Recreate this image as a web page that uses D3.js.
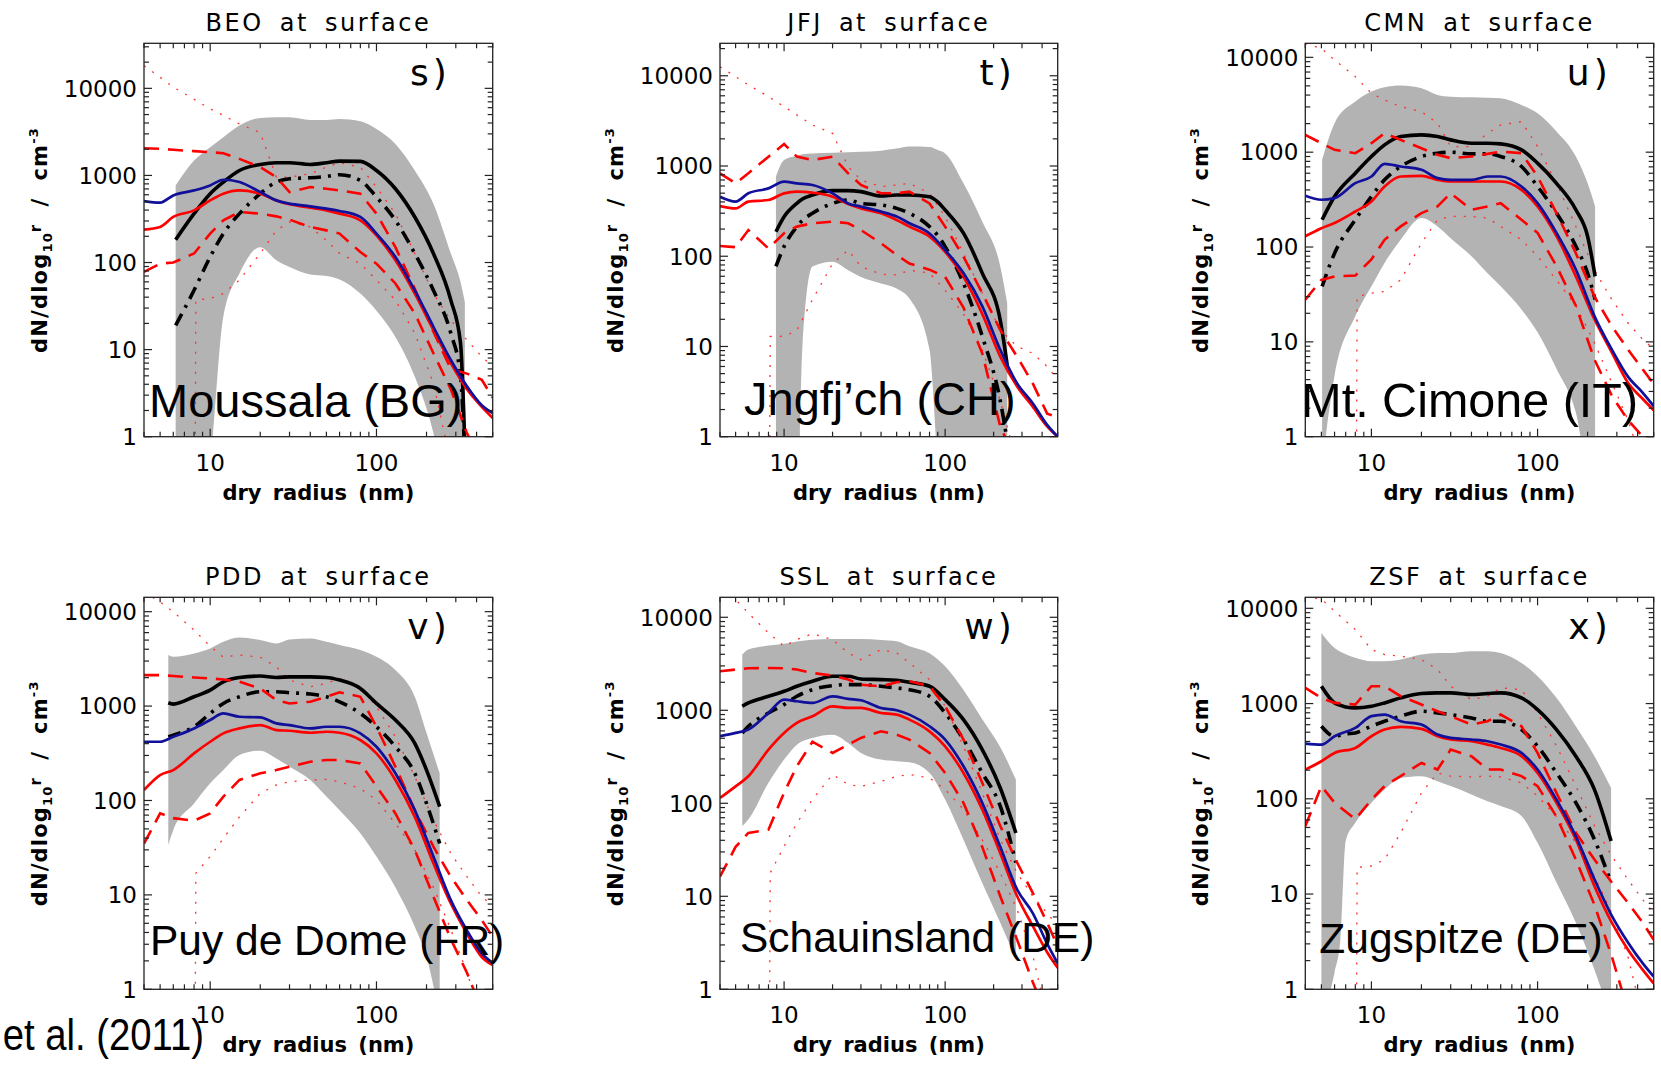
<!DOCTYPE html>
<html>
<head>
<meta charset="utf-8">
<script src="https://cdn.jsdelivr.net/npm/d3@7"></script>
<style>
body { margin: 0; background: #fff; }
svg text { font-family: "DejaVu Sans", sans-serif; fill: #000; }
.station { font-family: "Liberation Sans", Arial, sans-serif !important; }
</style>
</head>
<body>
<svg id="fig" width="1661" height="1065"></svg>
<script>
(function() {

// ---- data (dN/dlog10r in cm^-3 vs dry radius in nm) ----

const codes = ["BEO", "JFJ", "CMN", "PDD", "SSL", "ZSF"];
const stations = ["Moussala (BG)", "Jngfj\u2019ch (CH)", "Mt. Cimone (IT)", "Puy de Dome (FR)", "Schauinsland (DE)", "Zugspitze (DE)"];
const letters = ["s", "t", "u", "v", "w", "x"];
const yTops = [32900, 22900, 14060, 14200, 16400, 13050];
const xDomain = [4, 500];
const yTickValues = [1, 10, 100, 1000, 10000];
const xTickValues = [10, 100];

// radius grid of the observations, and of the lower 5th percentile (starts at ~8 nm)
const radii = [4, 5, 6, 8, 10, 12, 15, 20, 25, 30, 40, 50, 60, 80, 100, 130, 170, 220, 280, 350, 430, 500];
const lowDotRadii = [8.1, 8.2, 10, 12, 15, 20, 25, 30, 40, 50, 60, 80, 100, 130, 170, 220, 280, 350, 430, 500];

// BEO / Moussala
const beoModelR = [6.2, 8, 10, 12, 15, 20, 25, 30, 40, 50, 60, 80, 100, 130, 170, 220, 280, 320, 340];
const beoShadeHi = [768, 1480, 2110, 2750, 3740, 4580, 4650, 4650, 4340, 4340, 4460, 4190, 3420, 2300, 1140, 474, 127, 60, 35];
const beoShadeLo = [0.1, 0.1, 0.5, 24, 75, 150, 106, 89, 73, 70, 64, 44, 28, 14, 4.9, 1.1, 0.1, 0.1, 0.1];
const beoModelMean = [183, 364, 617, 839, 1140, 1337, 1400, 1400, 1337, 1400, 1460, 1450, 1140, 703, 333, 127, 37, 12, 0.8];
const beoModelMedian = [19, 48, 116, 215, 364, 617, 839, 915, 940, 975, 1020, 877, 565, 305, 127, 48, 15.4, 5, 0.6];
const beoObsMean = [508, 487, 590, 673, 768, 892, 839, 644, 517, 474, 442, 415, 391, 334, 215, 116, 48, 18.3, 7.6, 3.8, 2.3, 1.87];
const beoObsMedian = [239, 256, 334, 397, 517, 617, 673, 617, 517, 466, 427, 397, 364, 305, 205, 106, 44, 16.8, 7.0, 3.5, 2.2, 1.64];
const beoQ75 = [2055, 2020, 1970, 1900, 1850, 1800, 1550, 1245, 957, 644, 735, 704, 673, 617, 364, 150, 50, 16, 6, 5.3, 4.5, 2.8];
const beoQ25 = [78, 97, 100, 127, 215, 305, 380, 364, 339, 311, 256, 234, 215, 132, 97, 57.5, 26, 9.1, 3.5, 1.1, 0.5, 0.3];
const beoP95 = [18200, 13400, 10300, 7500, 5800, 4900, 3900, 3100, 957, 957, 1045, 1245, 1400, 1245, 735, 364, 127, 44, 21.8, 12.9, 8.3, 6.4];
const beoP05 = [0.1, 37, 38.5, 44, 63, 127, 234, 292, 256, 180, 127, 97, 63, 37, 15.4, 4.1, 0.5, 0.3, 0.2, 0.1];

// JFJ / Jungfraujoch
const jfjModelR = [8.9, 10, 12, 13, 15, 20, 25, 30, 40, 50, 60, 80, 90, 100, 130, 170, 220, 243];
const jfjShadeHi = [762, 1165, 1300, 1350, 1380, 1400, 1420, 1440, 1480, 1560, 1640, 1620, 1500, 1380, 643, 242, 77, 30];
const jfjShadeLo = [0.1, 0.1, 0.1, 10, 77, 87, 70, 59, 50, 44, 34, 9.2, 0.5, 0.1, 0.1, 0.1, 0.1, 0.1];
const jfjModelMean = [187, 274, 385, 430, 477, 533, 533, 520, 465, 477, 477, 457, 400, 325, 180, 65, 19.5, 6.2];
const jfjModelMedian = [77, 128, 213, 250, 299, 385, 420, 385, 370, 339, 299, 213, 170, 128, 50, 13, 2.5, 0.9];
const jfjObsMean = [457, 403, 498, 565, 670, 642, 616, 498, 385, 355, 312, 275, 232, 179, 117, 65, 28, 9.2, 3.9, 2.35, 1.35, 1.0];
const jfjObsMedian = [360, 339, 403, 420, 498, 520, 506, 457, 379, 339, 299, 252, 213, 165, 112, 59, 23, 7.7, 3.6, 2.15, 1.3, 1.0];
const jfjQ75 = [829, 643, 829, 1270, 1750, 1270, 1165, 1270, 829, 616, 498, 498, 520, 385, 213, 99, 39, 15.2, 7.7, 3.9, 1.8, 1.65];
const jfjQ25 = [130, 126, 195, 122, 180, 213, 232, 242, 232, 195, 139, 103, 83, 71, 59, 27, 8.4, 1.3, 0.5, 0.3, 0.2, 0.1];
const jfjP95 = [12600, 9780, 7910, 5870, 4550, 3680, 2850, 2300, 983, 700, 590, 616, 643, 498, 275, 108, 39, 15.2, 10, 8.4, 6, 4.3];
const jfjP05 = [0.1, 12.9, 13, 15, 33, 83, 117, 77, 63, 62, 70, 65, 42, 23, 9.2, 2.5, 0.5, 0.3, 0.2, 0.1];

// CMN / Mt. Cimone
const cmnModelR = [5.05, 6, 8, 10, 12, 15, 20, 25, 30, 40, 50, 60, 80, 100, 130, 170, 200, 222];
const cmnShadeHi = [830, 2020, 3420, 4350, 4830, 5040, 4720, 4010, 3850, 3790, 3760, 3700, 3150, 2570, 1650, 900, 472, 268];
const cmnShadeLo = [0.5, 4.4, 18.6, 38.5, 68, 119, 202, 165, 124, 80, 53, 38.5, 22, 12.6, 5.2, 1.8, 0.5, 0.5];
const cmnModelMean = [194, 341, 601, 900, 1194, 1462, 1522, 1462, 1348, 1244, 1244, 1224, 1058, 766, 470, 247, 130, 49];
const cmnModelMedian = [38.5, 86, 194, 341, 511, 706, 900, 976, 1000, 960, 960, 900, 706, 435, 228, 102, 53, 28];
const cmnObsMean = [347, 315, 328, 471, 554, 754, 706, 652, 533, 511, 511, 554, 554, 435, 290, 141, 58, 18.7, 8.3, 4.3, 2.9, 2.1];
const cmnObsMedian = [130, 158, 179, 237, 302, 435, 554, 563, 511, 491, 491, 491, 491, 401, 268, 130, 49, 17.3, 7.7, 3.7, 2.5, 1.9];
const cmnQ75 = [1521, 1244, 1058, 976, 1244, 1585, 1348, 1102, 937, 865, 900, 960, 1016, 976, 554, 228, 86, 30, 14.6, 8.3, 5.1, 3.6];
const cmnQ25 = [27.9, 45, 49, 50, 74, 119, 165, 228, 268, 370, 247, 268, 290, 194, 141, 63, 24, 6.5, 2.7, 1.5, 1.0, 0.6];
const cmnP95 = [14000, 12400, 9380, 6250, 4170, 3550, 3020, 2680, 2020, 1147, 1147, 1585, 1940, 2100, 1147, 471, 165, 57, 27.9, 15.8, 10.6, 8.4];
const cmnP05 = [0.1, 30, 32.6, 34, 45, 110, 194, 210, 210, 202, 165, 119, 80, 45, 24, 9.8, 3.7, 1.5, 0.5, 0.3];

// PDD / Puy de Dome
const pddModelR = [5.6, 6, 8, 10, 12, 15, 20, 25, 30, 40, 50, 60, 80, 100, 130, 170, 200, 240];
const pddShadeHi = [3470, 3330, 3610, 4080, 4800, 5330, 5000, 4610, 5080, 5200, 4800, 4430, 3920, 3330, 2410, 1255, 520, 194];
const pddShadeLo = [33.7, 48.6, 93, 152, 210, 303, 337, 279, 228, 165, 110, 79, 45, 25.5, 12, 4.6, 2.2, 0.5];
const pddModelMean = [1085, 1050, 1255, 1477, 1810, 2010, 2080, 2010, 2040, 2040, 2010, 1886, 1538, 1067, 711, 402, 210, 86];
const pddModelMedian = [473, 493, 604, 836, 1067, 1255, 1418, 1418, 1385, 1340, 1255, 1111, 836, 604, 371, 194, 93, 35];
const pddObsMean = [419, 419, 473, 580, 711, 836, 771, 758, 656, 629, 580, 604, 604, 514, 371, 194, 79, 25.5, 8.8, 4.2, 2.4, 1.9];
const pddObsMedian = [129, 186, 210, 316, 419, 514, 580, 629, 557, 548, 522, 535, 522, 437, 316, 165, 67, 21.6, 8.1, 3.9, 2.2, 1.8];
const pddQ75 = [2130, 2130, 2080, 2010, 1960, 1915, 1810, 1538, 1157, 1067, 1111, 1255, 1400, 1255, 604, 228, 79, 32.4, 15.6, 8.8, 5.4, 3.6];
const pddQ25 = [35, 73, 65, 61, 73, 110, 165, 194, 210, 228, 257, 268, 268, 247, 141, 73, 30, 9.6, 3.4, 1.5, 0.6, 0.3];
const pddP95 = [16000, 12700, 9950, 6380, 4300, 3300, 3470, 3300, 2600, 1886, 1600, 1738, 1960, 1600, 984, 473, 179, 62, 27.5, 15.6, 9.6, 7.6];
const pddP05 = [0.1, 17, 25.5, 39.7, 67, 119, 146, 158, 165, 167, 158, 134, 101, 57, 30, 12, 4.3, 1.5, 0.5, 0.3];

// SSL / Schauinsland
const sslModelR = [5.5, 6, 8, 10, 12, 15, 20, 25, 30, 40, 50, 60, 80, 100, 130, 170, 220, 275];
const sslShadeHi = [3970, 4500, 4960, 5200, 5500, 5750, 5850, 5850, 5850, 5700, 5520, 4880, 4100, 2970, 1650, 800, 400, 180];
const sslShadeLo = [57, 67, 166, 295, 427, 504, 547, 446, 348, 295, 283, 276, 212, 110, 40.6, 13.9, 5.2, 2.1];
const sslModelMean = [1104, 1199, 1414, 1600, 1812, 2050, 2321, 2321, 2172, 2137, 2102, 2000, 1812, 1302, 794, 378, 146, 48];
const sslModelMedian = [570, 673, 936, 1150, 1414, 1667, 1840, 1887, 1887, 1812, 1738, 1667, 1414, 936, 484, 212, 93, 23];
const sslObsMean = [526, 571, 620, 936, 1302, 1250, 1199, 1414, 1324, 1281, 1059, 1000, 898, 673, 484, 250, 101, 34, 11.8, 6.6, 3.1, 1.9];
const sslObsMedian = [114, 152, 195, 378, 570, 731, 862, 1104, 1059, 1059, 936, 898, 794, 594, 410, 212, 86, 29, 10, 4.8, 2.5, 1.7];
const sslQ75 = [2630, 2740, 2830, 2850, 2830, 2740, 2520, 2360, 2137, 1887, 1812, 2000, 2050, 1812, 1104, 484, 166, 57, 23, 10.9, 5.2, 2.9];
const sslQ25 = [16.3, 34, 48, 52, 130, 250, 460, 348, 427, 504, 594, 547, 484, 348, 212, 101, 34, 10, 3.4, 1.2, 0.5, 0.3];
const sslP95 = [18200, 15500, 11100, 6770, 4880, 5750, 6670, 5750, 4140, 3500, 4490, 4140, 3230, 2137, 1104, 410, 130, 40.6, 17.8, 10, 6.6, 4.8];
const sslP05 = [0.1, 17.8, 34.4, 61, 110, 204, 159, 152, 172, 195, 204, 187, 141, 86, 40.6, 17.8, 7.2, 2.3, 0.5, 0.3];

// ZSF / Zugspitze
const zsfModelR = [5, 6, 6.5, 7, 8, 10, 12, 15, 20, 25, 30, 40, 50, 60, 80, 100, 130, 170, 220, 277];
const zsfShadeHi = [5520, 3840, 3500, 3300, 3020, 2780, 2780, 2900, 3270, 3400, 3400, 3540, 3540, 3400, 2670, 1940, 1150, 578, 280, 130];
const zsfShadeLo = [0.5, 1.5, 3.3, 36, 56, 91, 125, 166, 173, 153, 136, 111, 94, 84, 66, 34.5, 13.2, 5, 1.6, 0.5];
const zsfModelMean = [1520, 1016, 960, 920, 900, 937, 1016, 1147, 1273, 1294, 1294, 1243, 1273, 1294, 1147, 865, 533, 280, 125, 36];
const zsfModelMedian = [578, 454, 465, 480, 492, 578, 652, 737, 831, 798, 766, 707, 652, 652, 533, 356, 187, 91, 37.4, 13.2];
const zsfObsMean = [380, 371, 454, 555, 737, 766, 652, 602, 473, 436, 419, 402, 371, 303, 203, 98, 40.4, 14.3, 5.9, 3.1, 1.87, 1.36];
const zsfObsMedian = [203, 248, 303, 342, 454, 533, 569, 542, 454, 419, 402, 371, 342, 280, 187, 91, 37.4, 12.1, 5, 2.6, 1.6, 1.15];
const zsfQ75 = [1460, 1147, 1016, 976, 1520, 1520, 1194, 976, 831, 737, 602, 652, 766, 578, 303, 115, 44, 23, 13.2, 8.1, 5, 3.3];
const zsfQ25 = [51.6, 136, 91, 61, 98, 136, 173, 238, 203, 329, 280, 203, 203, 173, 136, 65, 23, 7.7, 2.2, 0.6, 0.3, 0.2];
const zsfP95 = [13200, 12500, 9330, 5980, 3690, 3270, 3140, 2900, 2280, 1520, 1100, 1194, 1460, 1400, 798, 360, 136, 52, 25, 14.2, 8.7, 6.3];
const zsfP05 = [0.1, 19, 19.7, 23, 44, 115, 187, 173, 170, 173, 170, 147, 107, 65, 34.5, 15.3, 6.3, 2.2, 0.5, 0.3];

// table the drawing loop walks over
let panels = [
  {modelR: beoModelR, hi: beoShadeHi, lo: beoShadeLo, mean: beoModelMean, median: beoModelMedian,
   obsMean: beoObsMean, obsMedian: beoObsMedian, q75: beoQ75, q25: beoQ25, p95: beoP95, p05: beoP05},
  {modelR: jfjModelR, hi: jfjShadeHi, lo: jfjShadeLo, mean: jfjModelMean, median: jfjModelMedian,
   obsMean: jfjObsMean, obsMedian: jfjObsMedian, q75: jfjQ75, q25: jfjQ25, p95: jfjP95, p05: jfjP05},
  {modelR: cmnModelR, hi: cmnShadeHi, lo: cmnShadeLo, mean: cmnModelMean, median: cmnModelMedian,
   obsMean: cmnObsMean, obsMedian: cmnObsMedian, q75: cmnQ75, q25: cmnQ25, p95: cmnP95, p05: cmnP05},
  {modelR: pddModelR, hi: pddShadeHi, lo: pddShadeLo, mean: pddModelMean, median: pddModelMedian,
   obsMean: pddObsMean, obsMedian: pddObsMedian, q75: pddQ75, q25: pddQ25, p95: pddP95, p05: pddP05},
  {modelR: sslModelR, hi: sslShadeHi, lo: sslShadeLo, mean: sslModelMean, median: sslModelMedian,
   obsMean: sslObsMean, obsMedian: sslObsMedian, q75: sslQ75, q25: sslQ25, p95: sslP95, p05: sslP05},
  {modelR: zsfModelR, hi: zsfShadeHi, lo: zsfShadeLo, mean: zsfModelMean, median: zsfModelMedian,
   obsMean: zsfObsMean, obsMedian: zsfObsMedian, q75: zsfQ75, q25: zsfQ25, p95: zsfP95, p05: zsfP05}
];

// ---- layout (pixels) ----
let frames = [
  {left: 144,    top: 43.3,  w: 348.7, h: 393.4, sx: 5,   sy: -20,   fs: 47},
  {left: 720,    top: 43.3,  w: 337.7, h: 393.4, sx: 24,  sy: -21.5, fs: 47},
  {left: 1305.3, top: 43.3,  w: 348.4, h: 393.4, sx: -4,  sy: -20,   fs: 48.5},
  {left: 144,    top: 597.3, w: 348.7, h: 392,   sx: 6,   sy: -34,   fs: 42.5},
  {left: 720,    top: 597.3, w: 337.7, h: 392,   sx: 20,  sy: -37.5, fs: 42.5},
  {left: 1305.3, top: 597.3, w: 348.4, h: 392,   sx: 14,  sy: -36,   fs: 42.5}
];

const zip = (rs, vs) => rs.map((r, j) => [r, vs[j]]);

let svg = d3.select("#fig");
let defs = svg.append("defs");

panels.forEach(function(p, i) {
  let f = frames[i];
  let right = f.left + f.w, bottom = f.top + f.h;

  let xScale = d3.scaleLog().domain(xDomain).range([f.left, right]);
  let yScale = d3.scaleLog().domain([1, yTops[i]]).range([bottom, f.top]);

  let line = d3.line().x((d) => xScale(d[0])).y((d) => yScale(d[1]));
  let smooth = d3.line().x((d) => xScale(d[0])).y((d) => yScale(d[1])).curve(d3.curveMonotoneX);

  defs.append("clipPath").attr("id", "clip" + i)
    .append("rect").attr("x", f.left).attr("y", f.top).attr("width", f.w).attr("height", f.h);

  let g = svg.append("g");
  let plot = g.append("g").attr("clip-path", "url(#clip" + i + ")");

  // model 5-95 % band
  let band = p.modelR.map((r, j) => ({r: r, lo: p.lo[j], hi: p.hi[j]}));
  plot.append("path")
    .datum(band)
    .attr("fill", "#b3b3b3")
    .attr("d", d3.area()
      .x((d) => xScale(d.r))
      .y0((d) => yScale(d.lo))
      .y1((d) => yScale(d.hi))
      .curve(d3.curveMonotoneX));

  // observed percentiles
  plot.append("path").datum(zip(radii, p.p95))
    .attr("fill", "none").attr("stroke", "#ff3030").attr("stroke-width", 1.3)
    .attr("stroke-dasharray", "2,8").attr("d", line);
  plot.append("path").datum(zip(lowDotRadii, p.p05))
    .attr("fill", "none").attr("stroke", "#ff3030").attr("stroke-width", 1.3)
    .attr("stroke-dasharray", "2,8").attr("d", line);

  // model median and mean
  plot.append("path").datum(zip(p.modelR, p.median))
    .attr("fill", "none").attr("stroke", "#000").attr("stroke-width", 3.6)
    .attr("stroke-dasharray", "13,7,3,7").attr("d", smooth);
  plot.append("path").datum(zip(p.modelR, p.mean))
    .attr("fill", "none").attr("stroke", "#000").attr("stroke-width", 3.6)
    .attr("d", smooth);

  // observed quartiles, median, mean
  [p.q75, p.q25].forEach(function(q) {
    plot.append("path").datum(zip(radii, q))
      .attr("fill", "none").attr("stroke", "#f00").attr("stroke-width", 2.6)
      .attr("stroke-dasharray", "15,9").attr("d", line);
  });
  plot.append("path").datum(zip(radii, p.obsMedian))
    .attr("fill", "none").attr("stroke", "#f00").attr("stroke-width", 2.7)
    .attr("d", smooth);
  plot.append("path").datum(zip(radii, p.obsMean))
    .attr("fill", "none").attr("stroke", "#10109a").attr("stroke-width", 2.7)
    .attr("d", smooth);

  // frame and IDL-style inward ticks on all four sides
  g.append("rect")
    .attr("x", f.left).attr("y", f.top).attr("width", f.w).attr("height", f.h)
    .attr("fill", "none").attr("stroke", "#222").attr("stroke-width", 1.3);

  let yt = [];
  for (let k = 0; k <= 4; k++) {
    for (let m = 1; m <= 9; m++) {
      let v = m * Math.pow(10, k);
      if (v <= yTops[i]) yt.push({v: v, major: m === 1});
    }
  }
  let xt = [];
  [1, 10, 100].forEach(function(base) {
    for (let m = 1; m <= 9; m++) {
      let v = m * base;
      if (v >= xDomain[0] && v <= xDomain[1]) xt.push({v: v, major: m === 1});
    }
  });

  let ticks = g.append("g").attr("stroke", "#222").attr("stroke-width", 1.2);
  yt.forEach(function(t) {
    let len = t.major ? 8 : 5, yy = yScale(t.v);
    ticks.append("line").attr("x1", f.left).attr("x2", f.left + len).attr("y1", yy).attr("y2", yy);
    ticks.append("line").attr("x1", right).attr("x2", right - len).attr("y1", yy).attr("y2", yy);
  });
  xt.forEach(function(t) {
    let len = t.major ? 8 : 5, xx = xScale(t.v);
    ticks.append("line").attr("x1", xx).attr("x2", xx).attr("y1", bottom).attr("y2", bottom - len);
    ticks.append("line").attr("x1", xx).attr("x2", xx).attr("y1", f.top).attr("y2", f.top + len);
  });

  // tick labels
  g.selectAll(".ylab").data(yTickValues.filter((v) => v <= yTops[i])).enter()
    .append("text")
    .attr("x", f.left - 7)
    .attr("y", (d) => yScale(d))
    .attr("dy", "0.36em")
    .attr("text-anchor", "end")
    .attr("font-size", 23)
    .text((d) => d);
  g.selectAll(".xlab").data(xTickValues).enter()
    .append("text")
    .attr("x", (d) => xScale(d))
    .attr("y", bottom + 34)
    .attr("text-anchor", "middle")
    .attr("font-size", 23)
    .text((d) => d);

  // titles
  g.append("text")
    .attr("x", f.left + f.w / 2).attr("y", f.top - 12.5)
    .attr("text-anchor", "middle").attr("font-size", 24)
    .attr("letter-spacing", 2.5).attr("word-spacing", 6)
    .text(codes[i] + " at surface");

  g.append("text")
    .attr("x", f.left + f.w / 2).attr("y", bottom + 63)
    .attr("text-anchor", "middle").attr("font-size", 21).attr("font-weight", "bold")
    .attr("word-spacing", 4)
    .text("dry radius (nm)");

  let yl = g.append("text")
    .attr("transform", "translate(" + (f.left - 97) + "," + (f.top + f.h / 2) + ") rotate(-90)")
    .attr("text-anchor", "middle").attr("font-size", 21).attr("font-weight", "bold")
    .attr("letter-spacing", 1.2);
  yl.append("tspan").text("dN/dlog");
  yl.append("tspan").attr("font-size", 13).attr("dy", 5).text("10");
  yl.append("tspan").attr("font-size", 15).attr("dy", -11).text("r");
  yl.append("tspan").attr("dy", 6).text("\u00a0\u00a0/\u00a0\u00a0cm");
  yl.append("tspan").attr("font-size", 13).attr("dy", -9).text("-3");

  // panel letter
  g.append("text")
    .attr("x", right - 42).attr("y", f.top + 42)
    .attr("text-anchor", "end").attr("font-size", 36)
    .attr("letter-spacing", 4)
    .text(letters[i] + ")");

  // station name
  g.append("text")
    .attr("class", "station")
    .attr("x", f.left + f.sx).attr("y", bottom + f.sy)
    .attr("font-size", f.fs)
    .text(stations[i]);
});

// citation fragment bottom-left (cut by the page edge, squeezed as in the source slide)
svg.append("text")
  .attr("class", "station")
  .attr("transform", "translate(204,1050) scale(0.87,1)")
  .attr("text-anchor", "end")
  .attr("font-size", 44)
  .text("et al. (2011)");

})();
</script>
</body>
</html>
